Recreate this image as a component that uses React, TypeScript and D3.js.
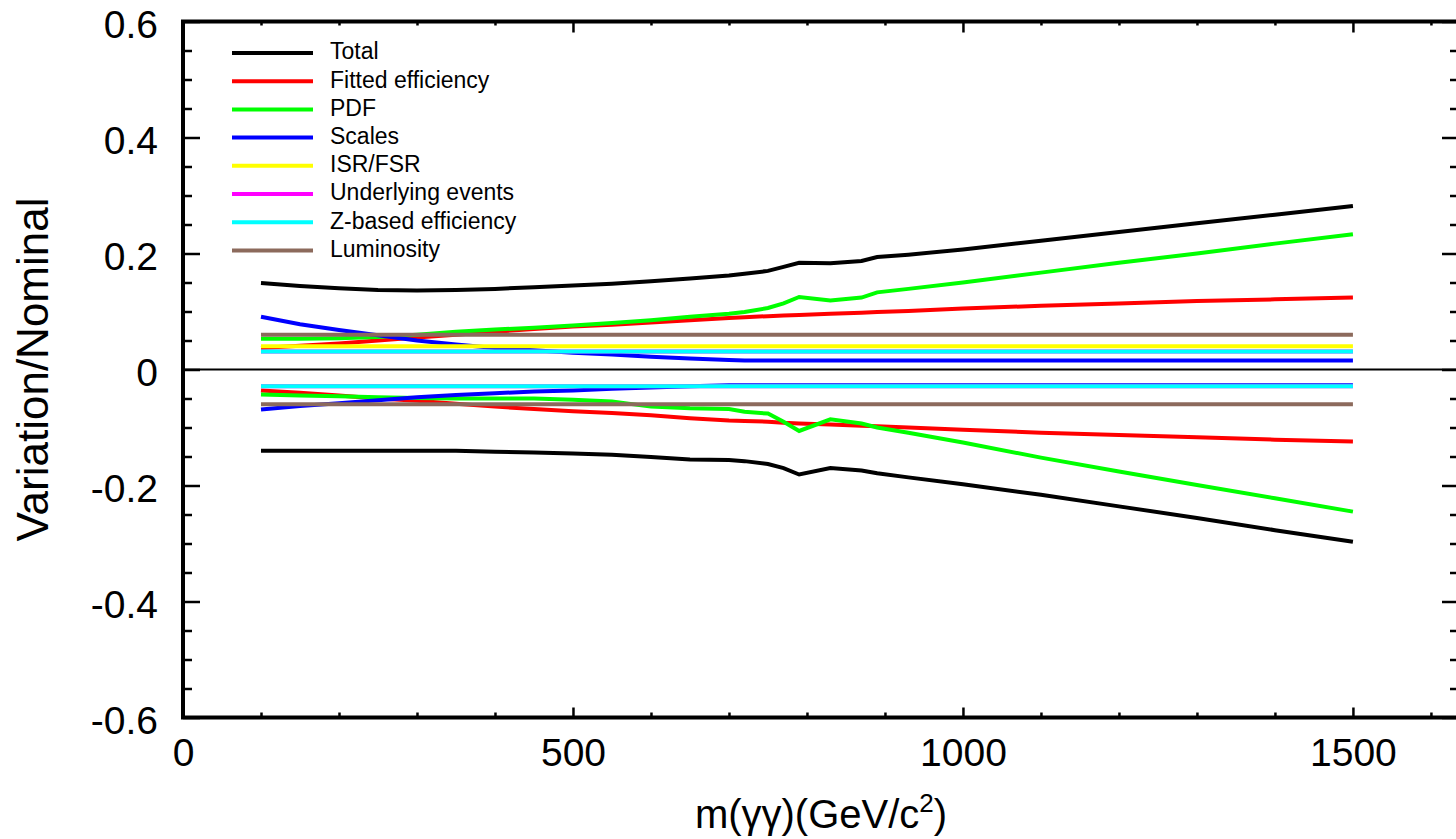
import React, { useEffect, useRef } from 'react';
import * as d3 from 'd3';

// mass points (GeV/c^2) shared by every curve
const mass = [100, 150, 200, 250, 300, 350, 400, 450, 500, 550, 600, 650, 700, 720, 750, 770, 790, 830, 870, 890, 930, 1000, 1100, 1200, 1300, 1400, 1500];

const totalUp = [0.149, 0.144, 0.140, 0.137, 0.136, 0.137, 0.139, 0.142, 0.145, 0.148, 0.152, 0.157, 0.162, 0.165, 0.170, 0.177, 0.184, 0.183, 0.187, 0.194, 0.198, 0.207, 0.222, 0.237, 0.252, 0.267, 0.282];
const totalDown = [-0.140, -0.140, -0.140, -0.140, -0.140, -0.140, -0.142, -0.143, -0.145, -0.147, -0.151, -0.155, -0.156, -0.158, -0.163, -0.170, -0.181, -0.170, -0.174, -0.179, -0.186, -0.198, -0.216, -0.236, -0.256, -0.277, -0.297];
const fitUp = [0.037, 0.041, 0.045, 0.050, 0.055, 0.060, 0.065, 0.070, 0.074, 0.077, 0.081, 0.085, 0.089, 0.090, 0.092, 0.093, 0.094, 0.096, 0.098, 0.099, 0.101, 0.105, 0.110, 0.114, 0.118, 0.121, 0.124];
const fitDown = [-0.036, -0.040, -0.045, -0.050, -0.054, -0.059, -0.064, -0.068, -0.072, -0.075, -0.079, -0.084, -0.088, -0.089, -0.090, -0.092, -0.093, -0.095, -0.097, -0.098, -0.100, -0.104, -0.109, -0.113, -0.117, -0.121, -0.124];
const pdfUp = [0.053, 0.053, 0.054, 0.056, 0.060, 0.065, 0.069, 0.072, 0.076, 0.080, 0.085, 0.091, 0.096, 0.099, 0.106, 0.114, 0.125, 0.119, 0.124, 0.133, 0.139, 0.150, 0.167, 0.184, 0.200, 0.217, 0.233];
const pdfDown = [-0.043, -0.045, -0.046, -0.048, -0.049, -0.050, -0.050, -0.050, -0.052, -0.055, -0.064, -0.067, -0.068, -0.073, -0.076, -0.090, -0.106, -0.086, -0.093, -0.100, -0.109, -0.126, -0.152, -0.176, -0.199, -0.222, -0.245];
const scalesUp = [0.091, 0.078, 0.068, 0.059, 0.050, 0.043, 0.037, 0.033, 0.029, 0.026, 0.022, 0.019, 0.0165, 0.0155, 0.0155, 0.0155, 0.0155, 0.0155, 0.0155, 0.0155, 0.0155, 0.0155, 0.0155, 0.0155, 0.0155, 0.0155, 0.0155];
const scalesDown = [-0.069, -0.063, -0.058, -0.053, -0.048, -0.044, -0.041, -0.038, -0.036, -0.033, -0.031, -0.029, -0.027, -0.027, -0.027, -0.027, -0.027, -0.027, -0.027, -0.027, -0.027, -0.027, -0.027, -0.027, -0.027, -0.027, -0.027];
const isrUp = mass.map(() => 0.040);
const ueUp = mass.map(() => 0.031);
const ueDown = mass.map(() => -0.029);
const zUp = mass.map(() => 0.031);
const zDown = mass.map(() => -0.029);
const lumiUp = mass.map(() => 0.060);
const lumiDown = mass.map(() => -0.060);

const xTicks = [0, 500, 1000, 1500];
const yTicks = [-0.6, -0.4, -0.2, 0, 0.2, 0.4, 0.6];

const series = [
  { name: 'Total', color: '#000000', curves: [totalUp, totalDown] },
  { name: 'Fitted efficiency', color: '#ff0000', curves: [fitUp, fitDown] },
  { name: 'PDF', color: '#00ff00', curves: [pdfUp, pdfDown] },
  { name: 'Scales', color: '#0000ff', curves: [scalesUp, scalesDown] },
  { name: 'ISR/FSR', color: '#ffff00', curves: [isrUp] },
  { name: 'Underlying events', color: '#ff00ff', curves: [ueUp, ueDown] },
  { name: 'Z-based efficiency', color: '#00ffff', curves: [zUp, zDown] },
  { name: 'Luminosity', color: '#8c6a5c', curves: [lumiUp, lumiDown] },
];

const W = 1456;
const H = 839;
const font = '"Liberation Sans", Arial, Helvetica, sans-serif';

export default function App() {
  const ref = useRef(null);

  useEffect(() => {
    const svg = d3.select(ref.current);
    svg.selectAll('*').remove();

    const left = 183, right = 1459, top = 21.5, bottom = 717.5;
    const x = d3.scaleLinear().domain([0, 1636]).range([left, right]);
    const y = d3.scaleLinear().domain([-0.6, 0.6]).range([bottom, top]);

    const xMinor = d3.range(0, 1700, 100).filter((d) => d % 500 !== 0 && d <= 1636);
    const yMinor = d3.range(-12, 13).map((d) => d * 0.05).filter((d) => Math.abs(Math.round(d * 100) % 20) !== 0);

    const line = d3
      .line()
      .x((d) => x(d[0]))
      .y((d) => y(d[1]));

    // zero line
    svg.append('line')
      .attr('x1', left).attr('x2', right)
      .attr('y1', y(0)).attr('y2', y(0))
      .attr('stroke', '#000').attr('stroke-width', 2);

    // data curves
    series.forEach((s) => {
      s.curves.forEach((vals) => {
        svg.append('path')
          .datum(mass.map((m, i) => [m, vals[i]]))
          .attr('d', line)
          .attr('fill', 'none')
          .attr('stroke', s.color)
          .attr('stroke-width', 4);
      });
    });

    const styleAxis = (g) => {
      g.attr('font-size', null).attr('font-family', null);
      g.select('.domain').remove();
      g.selectAll('.tick line').attr('stroke-width', 2.5);
      g.selectAll('text')
        .style('font-family', font)
        .style('font-size', '39px')
        .attr('fill', '#000');
    };

    // bottom
    svg.append('g').attr('transform', `translate(0,${bottom})`)
      .call(d3.axisBottom(x).tickValues(xTicks).tickSizeInner(-10).tickSizeOuter(0).tickPadding(21).tickFormat(d3.format('d')))
      .call(styleAxis);
    svg.append('g').attr('transform', `translate(0,${bottom})`)
      .call(d3.axisBottom(x).tickValues(xMinor).tickSizeInner(-5).tickSizeOuter(0).tickFormat(() => ''))
      .call(styleAxis);
    // top
    svg.append('g').attr('transform', `translate(0,${top})`)
      .call(d3.axisTop(x).tickValues(xTicks).tickSizeInner(-11).tickSizeOuter(0).tickFormat(() => ''))
      .call(styleAxis);
    svg.append('g').attr('transform', `translate(0,${top})`)
      .call(d3.axisTop(x).tickValues(xMinor).tickSizeInner(-4).tickSizeOuter(0).tickFormat(() => ''))
      .call(styleAxis);
    // left
    svg.append('g').attr('transform', `translate(${left},0)`)
      .call(d3.axisLeft(y).tickValues(yTicks).tickSizeInner(-17).tickSizeOuter(0).tickPadding(25)
        .tickFormat((d) => (d === 0 ? '0' : d.toFixed(1))))
      .call(styleAxis)
      .selectAll('text').attr('dy', '0.4em');
    svg.append('g').attr('transform', `translate(${left},0)`)
      .call(d3.axisLeft(y).tickValues(yMinor).tickSizeInner(-9).tickSizeOuter(0).tickFormat(() => ''))
      .call(styleAxis);
    // right
    svg.append('g').attr('transform', `translate(${right},0)`)
      .call(d3.axisRight(y).tickValues(yTicks).tickSizeInner(-17).tickSizeOuter(0).tickFormat(() => ''))
      .call(styleAxis);
    svg.append('g').attr('transform', `translate(${right},0)`)
      .call(d3.axisRight(y).tickValues(yMinor).tickSizeInner(-9).tickSizeOuter(0).tickFormat(() => ''))
      .call(styleAxis);

    // frame
    svg.append('rect')
      .attr('x', left).attr('y', top)
      .attr('width', right - left).attr('height', bottom - top)
      .attr('fill', 'none').attr('stroke', '#000').attr('stroke-width', 4);

    // axis titles
    const xt = svg.append('text')
      .attr('x', (left + right) / 2).attr('y', 828)
      .attr('text-anchor', 'middle')
      .style('font-family', font).style('font-size', '40px');
    xt.append('tspan').text('m(γγ)(GeV/c');
    xt.append('tspan').attr('dy', -16).style('font-size', '26px').text('2');
    xt.append('tspan').attr('dy', 16).text(')');

    svg.append('text')
      .attr('transform', `translate(48,${y(0)}) rotate(-90)`)
      .attr('text-anchor', 'middle')
      .style('font-family', font).style('font-size', '44px')
      .text('Variation/Nominal');

    // legend
    const lg = svg.append('g');
    series.forEach((s, i) => {
      const ly = 53 + i * 28.2;
      lg.append('line')
        .attr('x1', 232).attr('x2', 313)
        .attr('y1', ly).attr('y2', ly)
        .attr('stroke', s.color).attr('stroke-width', 4);
      lg.append('text')
        .attr('x', 330).attr('y', ly).attr('dy', '0.28em')
        .style('font-family', font).style('font-size', '23px')
        .text(s.name);
    });
  }, []);

  return (
    <svg
      ref={ref}
      width={W}
      height={H}
      style={{ position: 'absolute', left: 0, top: 0, background: '#fff', display: 'block' }}
    />
  );
}
